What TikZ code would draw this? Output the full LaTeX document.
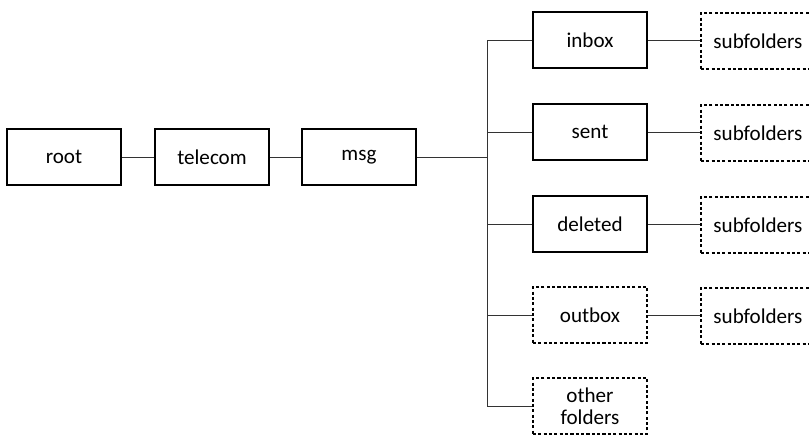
\documentclass[tikz,border=0pt]{standalone}
\usepackage{fontspec}
\setmainfont{Carlito}
\usetikzlibrary{positioning}

\tikzset{
  folder/.style={draw, line width=1.3pt, minimum width=114*0.025cm, minimum height=56*0.025cm,
    inner sep=0pt, align=center, font=\fontsize{15}{16}\selectfont},
  optfolder/.style={folder, line width=1.1pt, dash pattern=on 2.2pt off 1.6pt},
  link/.style={draw=black!80, line width=0.7pt}
}

\begin{document}
\begin{tikzpicture}[x=0.025cm, y=-0.025cm]
 \useasboundingbox (0,0) rectangle (809,436);
 \node[folder] (root) at (64,157) {root};
 \node[folder] (telecom) at (212,157) {telecom};
 \node[folder] (msg) at (359,157) {msg};
 \node[folder] (inbox) at (590,40) {inbox};
 \node[folder] (sent) at (590,132) {sent};
 \node[folder] (deleted) at (590,224) {deleted};
 \node[optfolder] (outbox) at (590,315) {outbox};
 \node[optfolder] (other) at (590,406) {other\\folders};
% subfolders run off the right edge
 \node[optfolder] (subinbox) at (758,41) {subfolders};
 \node[optfolder] (subsent) at (758,133) {subfolders};
 \node[optfolder] (subdeleted) at (758,225) {subfolders};
 \node[optfolder] (suboutbox) at (758,316) {subfolders};
 \coordinate (bustop) at (487,40);
 \coordinate (busbot) at (487,406);
 \draw[link] (root) -- (telecom);
 \draw[link] (telecom) -- (msg);
 \draw[link] (msg.east) -- (msg.east -| bustop);
 \draw[link] (bustop) -- (busbot);
 \foreach \f in {inbox, sent, deleted, outbox, other}
   \draw[link] (\f.west -| bustop) -- (\f.west);
 \foreach \f in {inbox, sent, deleted, outbox}
   \draw[link] (\f.east) -- (\f.east -| sub\f.west);
\end{tikzpicture}
\end{document}
